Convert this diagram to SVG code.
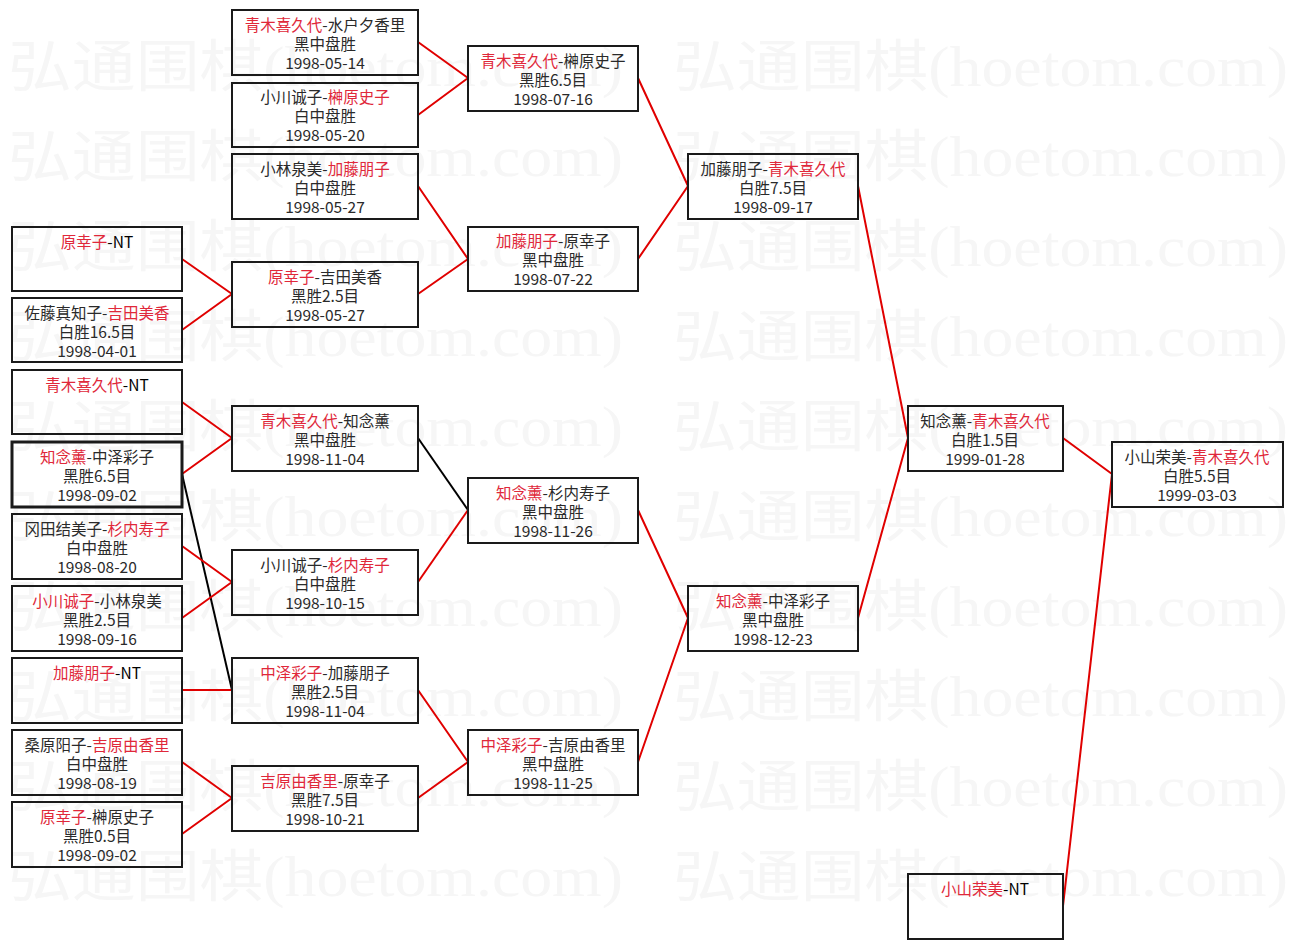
<svg xmlns="http://www.w3.org/2000/svg" width="1293" height="949" viewBox="0 0 1293 949">
<style>
.bg{fill:#ffffff}
.wm{font-family:"Liberation Serif","Noto Sans CJK SC",serif;font-size:56px;fill:#f6f6f6}
.box{fill:none;stroke:#1a1a1a;stroke-width:2}
.thick{stroke-width:3}
.t{font-family:"Noto Sans CJK SC","Noto Sans CJK JP",sans-serif;font-size:15.5px;fill:#2a2a2a;text-anchor:middle}
.r{fill:#e0283a}
.k{fill:#000}
.cr{stroke:#e00000;stroke-width:2;fill:none}
.cb{stroke:#000;stroke-width:2;fill:none}
</style>
<rect class="bg" x="0" y="0" width="1293" height="949"/>
<g id="watermark">
<text class="wm" x="8" y="86" textLength="615" lengthAdjust="spacingAndGlyphs">弘通围棋(hoetom.com)</text>
<text class="wm" x="673" y="86" textLength="615" lengthAdjust="spacingAndGlyphs">弘通围棋(hoetom.com)</text>
<text class="wm" x="8" y="176" textLength="615" lengthAdjust="spacingAndGlyphs">弘通围棋(hoetom.com)</text>
<text class="wm" x="673" y="176" textLength="615" lengthAdjust="spacingAndGlyphs">弘通围棋(hoetom.com)</text>
<text class="wm" x="8" y="266" textLength="615" lengthAdjust="spacingAndGlyphs">弘通围棋(hoetom.com)</text>
<text class="wm" x="673" y="266" textLength="615" lengthAdjust="spacingAndGlyphs">弘通围棋(hoetom.com)</text>
<text class="wm" x="8" y="356" textLength="615" lengthAdjust="spacingAndGlyphs">弘通围棋(hoetom.com)</text>
<text class="wm" x="673" y="356" textLength="615" lengthAdjust="spacingAndGlyphs">弘通围棋(hoetom.com)</text>
<text class="wm" x="8" y="446" textLength="615" lengthAdjust="spacingAndGlyphs">弘通围棋(hoetom.com)</text>
<text class="wm" x="673" y="446" textLength="615" lengthAdjust="spacingAndGlyphs">弘通围棋(hoetom.com)</text>
<text class="wm" x="8" y="536" textLength="615" lengthAdjust="spacingAndGlyphs">弘通围棋(hoetom.com)</text>
<text class="wm" x="673" y="536" textLength="615" lengthAdjust="spacingAndGlyphs">弘通围棋(hoetom.com)</text>
<text class="wm" x="8" y="626" textLength="615" lengthAdjust="spacingAndGlyphs">弘通围棋(hoetom.com)</text>
<text class="wm" x="673" y="626" textLength="615" lengthAdjust="spacingAndGlyphs">弘通围棋(hoetom.com)</text>
<text class="wm" x="8" y="716" textLength="615" lengthAdjust="spacingAndGlyphs">弘通围棋(hoetom.com)</text>
<text class="wm" x="673" y="716" textLength="615" lengthAdjust="spacingAndGlyphs">弘通围棋(hoetom.com)</text>
<text class="wm" x="8" y="806" textLength="615" lengthAdjust="spacingAndGlyphs">弘通围棋(hoetom.com)</text>
<text class="wm" x="673" y="806" textLength="615" lengthAdjust="spacingAndGlyphs">弘通围棋(hoetom.com)</text>
<text class="wm" x="8" y="896" textLength="615" lengthAdjust="spacingAndGlyphs">弘通围棋(hoetom.com)</text>
<text class="wm" x="673" y="896" textLength="615" lengthAdjust="spacingAndGlyphs">弘通围棋(hoetom.com)</text>
</g>
<g id="connectors">
<path class="cr" d="M182,259L232,294M182,330L232,294"/>
<path class="cr" d="M182,402L232,438M182,474L232,438"/>
<path class="cb" d="M182,474L232,690"/>
<path class="cr" d="M182,546L232,582M182,618L232,582"/>
<path class="cr" d="M182,690L232,690"/>
<path class="cr" d="M182,762L232,798M182,834L232,798"/>
<path class="cr" d="M418,42L468,78M418,115L468,78"/>
<path class="cr" d="M418,186L468,259M418,294L468,259"/>
<path class="cb" d="M418,438L468,510"/>
<path class="cr" d="M418,582L468,510"/>
<path class="cr" d="M418,690L468,762M418,798L468,762"/>
<path class="cr" d="M638,78L688,186M638,259L688,186"/>
<path class="cr" d="M638,510L688,618M638,762L688,618"/>
<path class="cr" d="M858,186L908,438M858,618L908,438"/>
<path class="cr" d="M1063,438L1112,474M1063,906L1112,474"/>
</g>
<g id="B1"><rect class="box" x="12" y="227" width="170" height="64"/><text class="t" x="97" y="248"><tspan class="r">原幸子</tspan><tspan class="k">-NT</tspan></text></g>
<g id="B2"><rect class="box" x="12" y="298" width="170" height="64"/><text class="t" x="97" y="319">佐藤真知子-<tspan class="r">吉田美香</tspan></text><text class="t" x="97" y="338">白胜16.5目</text><text class="t" x="97" y="357">1998-04-01</text></g>
<g id="B3"><rect class="box" x="12" y="370" width="170" height="64"/><text class="t" x="97" y="391"><tspan class="r">青木喜久代</tspan><tspan class="k">-NT</tspan></text></g>
<g id="B4"><rect class="box thick" x="12" y="442" width="170" height="65"/><text class="t" x="97" y="463"><tspan class="r">知念薰</tspan>-中泽彩子</text><text class="t" x="97" y="482">黑胜6.5目</text><text class="t" x="97" y="501">1998-09-02</text></g>
<g id="B5"><rect class="box" x="12" y="514" width="170" height="65"/><text class="t" x="97" y="535">冈田结美子-<tspan class="r">杉内寿子</tspan></text><text class="t" x="97" y="554">白中盘胜</text><text class="t" x="97" y="573">1998-08-20</text></g>
<g id="B6"><rect class="box" x="12" y="586" width="170" height="65"/><text class="t" x="97" y="607"><tspan class="r">小川诚子</tspan>-小林泉美</text><text class="t" x="97" y="626">黑胜2.5目</text><text class="t" x="97" y="645">1998-09-16</text></g>
<g id="B7"><rect class="box" x="12" y="658" width="170" height="65"/><text class="t" x="97" y="679"><tspan class="r">加藤朋子</tspan><tspan class="k">-NT</tspan></text></g>
<g id="B8"><rect class="box" x="12" y="730" width="170" height="65"/><text class="t" x="97" y="751">桑原阳子-<tspan class="r">吉原由香里</tspan></text><text class="t" x="97" y="770">白中盘胜</text><text class="t" x="97" y="789">1998-08-19</text></g>
<g id="B9"><rect class="box" x="12" y="802" width="170" height="65"/><text class="t" x="97" y="823"><tspan class="r">原幸子</tspan>-榊原史子</text><text class="t" x="97" y="842">黑胜0.5目</text><text class="t" x="97" y="861">1998-09-02</text></g>
<g id="A1"><rect class="box" x="232" y="10" width="186" height="65"/><text class="t" x="325" y="31"><tspan class="r">青木喜久代</tspan>-水户夕香里</text><text class="t" x="325" y="50">黑中盘胜</text><text class="t" x="325" y="69">1998-05-14</text></g>
<g id="A2"><rect class="box" x="232" y="83" width="186" height="64"/><text class="t" x="325" y="103">小川诚子-<tspan class="r">榊原史子</tspan></text><text class="t" x="325" y="122">白中盘胜</text><text class="t" x="325" y="141">1998-05-20</text></g>
<g id="A3"><rect class="box" x="232" y="154" width="186" height="65"/><text class="t" x="325" y="175">小林泉美-<tspan class="r">加藤朋子</tspan></text><text class="t" x="325" y="194">白中盘胜</text><text class="t" x="325" y="213">1998-05-27</text></g>
<g id="A4"><rect class="box" x="232" y="262" width="186" height="65"/><text class="t" x="325" y="283"><tspan class="r">原幸子</tspan>-吉田美香</text><text class="t" x="325" y="302">黑胜2.5目</text><text class="t" x="325" y="321">1998-05-27</text></g>
<g id="A5"><rect class="box" x="232" y="406" width="186" height="65"/><text class="t" x="325" y="427"><tspan class="r">青木喜久代</tspan>-知念薰</text><text class="t" x="325" y="446">黑中盘胜</text><text class="t" x="325" y="465">1998-11-04</text></g>
<g id="A6"><rect class="box" x="232" y="550" width="186" height="65"/><text class="t" x="325" y="571">小川诚子-<tspan class="r">杉内寿子</tspan></text><text class="t" x="325" y="590">白中盘胜</text><text class="t" x="325" y="609">1998-10-15</text></g>
<g id="A7"><rect class="box" x="232" y="658" width="186" height="65"/><text class="t" x="325" y="679"><tspan class="r">中泽彩子</tspan>-加藤朋子</text><text class="t" x="325" y="698">黑胜2.5目</text><text class="t" x="325" y="717">1998-11-04</text></g>
<g id="A8"><rect class="box" x="232" y="766" width="186" height="65"/><text class="t" x="325" y="787"><tspan class="r">吉原由香里</tspan>-原幸子</text><text class="t" x="325" y="806">黑胜7.5目</text><text class="t" x="325" y="825">1998-10-21</text></g>
<g id="C1"><rect class="box" x="468" y="46" width="170" height="65"/><text class="t" x="553" y="67"><tspan class="r">青木喜久代</tspan>-榊原史子</text><text class="t" x="553" y="86">黑胜6.5目</text><text class="t" x="553" y="105">1998-07-16</text></g>
<g id="C2"><rect class="box" x="468" y="227" width="170" height="64"/><text class="t" x="553" y="247"><tspan class="r">加藤朋子</tspan>-原幸子</text><text class="t" x="553" y="266">黑中盘胜</text><text class="t" x="553" y="285">1998-07-22</text></g>
<g id="C3"><rect class="box" x="468" y="478" width="170" height="65"/><text class="t" x="553" y="499"><tspan class="r">知念薰</tspan>-杉内寿子</text><text class="t" x="553" y="518">黑中盘胜</text><text class="t" x="553" y="537">1998-11-26</text></g>
<g id="C4"><rect class="box" x="468" y="730" width="170" height="65"/><text class="t" x="553" y="751"><tspan class="r">中泽彩子</tspan>-吉原由香里</text><text class="t" x="553" y="770">黑中盘胜</text><text class="t" x="553" y="789">1998-11-25</text></g>
<g id="D1"><rect class="box" x="688" y="154" width="170" height="65"/><text class="t" x="773" y="175">加藤朋子-<tspan class="r">青木喜久代</tspan></text><text class="t" x="773" y="194">白胜7.5目</text><text class="t" x="773" y="213">1998-09-17</text></g>
<g id="D2"><rect class="box" x="688" y="586" width="170" height="65"/><text class="t" x="773" y="607"><tspan class="r">知念薰</tspan>-中泽彩子</text><text class="t" x="773" y="626">黑中盘胜</text><text class="t" x="773" y="645">1998-12-23</text></g>
<g id="E1"><rect class="box" x="908" y="406" width="155" height="65"/><text class="t" x="985" y="427">知念薰-<tspan class="r">青木喜久代</tspan></text><text class="t" x="985" y="446">白胜1.5目</text><text class="t" x="985" y="465">1999-01-28</text></g>
<g id="E2"><rect class="box" x="908" y="874" width="155" height="65"/><text class="t" x="985" y="895"><tspan class="r">小山荣美</tspan><tspan class="k">-NT</tspan></text></g>
<g id="F1"><rect class="box" x="1112" y="442" width="171" height="65"/><text class="t" x="1197" y="463">小山荣美-<tspan class="r">青木喜久代</tspan></text><text class="t" x="1197" y="482">白胜5.5目</text><text class="t" x="1197" y="501">1999-03-03</text></g>
</svg>
